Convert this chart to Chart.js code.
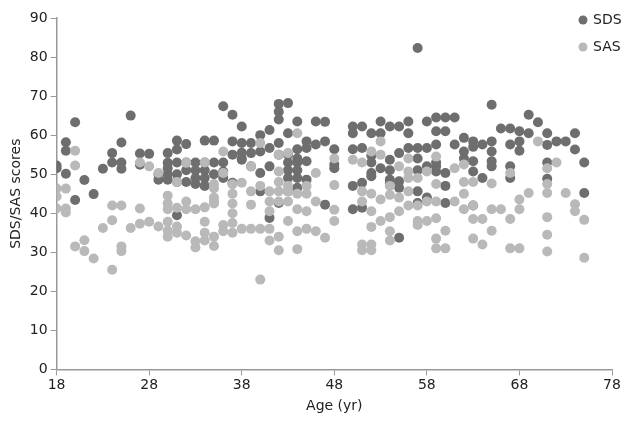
<!DOCTYPE html>
<html>
<head>
<meta charset="utf-8">
<script src="https://cdn.jsdelivr.net/npm/chart.js@4"></script>
<style>
    body { margin: 0; background: #fff; }
    #wrap { width: 630px; height: 430px; }
</style>
</head>
<body>
<div id="wrap"><canvas id="scores"></canvas></div>
<script>
    // Age (x) and score (y) pairs, one column per age
    const sdsAges = [
        18, 18, 19, 19, 19, 20, 20, 21, 22, 23, 24, 24, 25, 25, 25, 26, 27, 27,
        28, 29, 29, 30, 30, 30, 30, 30, 31, 31, 31, 31, 31, 31, 32, 32, 32, 32,
        33, 33, 33, 33, 34, 34, 34, 34, 34, 35, 35, 35, 36, 36, 36, 36, 37, 37,
        37, 37, 38, 38, 38, 38, 38, 39, 39, 39, 40, 40, 40, 40, 41, 41, 41, 41,
        42, 42, 42, 42, 42, 42, 43, 43, 43, 43, 43, 43, 43, 44, 44, 44, 44, 44,
        44, 44, 45, 45, 45, 45, 46, 46, 47, 47, 47, 48, 48, 48, 50, 50, 50, 50,
        50, 51, 51, 51, 51, 52, 52, 52, 52, 52, 53, 53, 53, 54, 54, 54, 54, 54,
        55, 55, 55, 55, 55, 56, 56, 56, 57, 57, 57, 57, 57, 57, 58, 58, 58, 58,
        59, 59, 59, 59, 59, 59, 60, 60, 60, 60, 60, 61, 61, 62, 62, 62, 63, 63,
        63, 63, 63, 64, 64, 65, 65, 65, 65, 65, 66, 67, 67, 67, 67, 68, 68, 68,
        69, 69, 70, 71, 71, 71, 71, 72, 73, 74, 74, 75, 75
    ];
    const sdsScores = [
        52.2, 51.5, 58.2, 56, 50.1, 63.3, 43.4, 48.5, 44.9, 51.4, 55.4, 53, 58.1, 53, 51.4, 65, 55.3, 52.4,
        55.2, 50, 48.6, 55.4, 52.9, 51.5, 50, 48.6, 58.6, 56.3, 53, 50, 48, 39.5, 57.7, 53, 51, 48,
        53, 51, 49, 47.5, 58.6, 53, 51, 49, 47, 58.6, 53, 50, 67.4, 53, 50.7, 49, 65.2, 58.4,
        55, 47.8, 62.2, 58, 55.5, 54, 53.7, 58, 55.4, 52, 60, 55.8, 50.3, 45.6, 61.3, 56.7, 52, 38.8,
        68, 66, 64, 58, 55, 42.6, 68.2, 60.5, 55, 53, 51, 49, 45.6, 63.5, 56.4, 54, 53, 51,
        49, 46.5, 58.4, 56.7, 53.3, 48.6, 63.5, 57.6, 63.4, 58.4, 42.2, 56.4, 52.5, 51.5, 62.2, 60.5, 56.4, 47,
        41, 62.2, 56.7, 47.8, 41.4, 60.5, 54.7, 53, 50.3, 49.5, 63.5, 60.5, 51.5, 62.2, 53.7, 51, 48.6, 47.8,
        62.2, 55.4, 48.2, 46.5, 33.7, 63.5, 60.5, 56.7, 82.3, 56.7, 54, 51, 45.6, 42.6, 63.5, 56.7, 52, 44,
        64.5, 61, 57.6, 53, 52, 50.7, 64.5, 61, 50.3, 47, 42.6, 64.5, 57.6, 59.3, 55.8, 54, 58.4, 57,
        53.3, 50.7, 42, 57.6, 49, 67.8, 58.4, 55.8, 53.3, 52, 61.7, 61.7, 57.6, 52, 49, 61, 58.4, 56,
        65.2, 60.5, 63.3, 60.5, 57.5, 53, 48.8, 58.4, 58.4, 60.5, 56.3, 53, 45.2
    ];
    const sasAges = [
        18, 18, 18, 19, 19, 19, 20, 20, 20, 21, 21, 22, 23, 24, 24, 24, 25, 25, 25,
        26, 27, 27, 27, 28, 28, 29, 29, 30, 30, 30, 30, 30, 30, 31, 31, 31, 31,
        32, 32, 32, 32, 33, 33, 33, 34, 34, 34, 34, 34, 35, 35, 35, 35, 35, 35, 35,
        36, 36, 36, 36, 37, 37, 37, 37, 37, 37, 38, 38, 39, 39, 39, 39, 40, 40,
        40, 40, 41, 41, 41, 41, 41, 42, 42, 42, 42, 42, 42, 42, 43, 43, 43, 43,
        43, 44, 44, 44, 44, 44, 45, 45, 45, 45, 46, 46, 46, 47, 48, 48, 48, 48,
        50, 51, 51, 51, 51, 51, 52, 52, 52, 52, 52, 52, 53, 53, 53, 53, 54, 54,
        54, 54, 54, 55, 55, 55, 56, 56, 56, 56, 56, 57, 57, 57, 57, 58, 58, 58,
        59, 59, 59, 59, 59, 59, 60, 60, 61, 61, 62, 62, 62, 62, 63, 63, 63, 63,
        64, 64, 65, 65, 65, 66, 67, 67, 67, 68, 68, 68, 69, 70, 71, 71, 71, 71,
        71, 71, 72, 73, 74, 74, 75, 75
    ];
    const sasScores = [
        46.3, 44.3, 41.2, 46.3, 41.2, 40.2, 56, 52.2, 31.5, 33.1, 30.3, 28.4, 36.2, 42, 38.2, 25.5, 42, 31.5, 30.3,
        36.2, 53, 41.2, 37.3, 52, 37.8, 50.3, 36.6, 44.5, 42.5, 41, 37.8, 35.5, 34, 48, 41.4, 36.6, 35,
        52.9, 43, 41, 34.3, 41, 32.8, 31.2, 53, 41.5, 37.8, 35, 33, 47.5, 46.4, 44, 43, 42.5, 34, 31.6,
        55.8, 50.3, 37, 35.4, 47.4, 45, 42.5, 40, 37.5, 35, 47.8, 36, 52, 45.6, 42.2, 36, 58, 47,
        36, 23, 45.6, 43, 40.5, 36, 33, 55, 50.7, 48, 45.6, 43, 34, 30.5, 55.4, 47, 45.6, 43,
        38, 60.5, 45, 41, 35.4, 30.8, 47, 45, 40.5, 36, 50.3, 43, 35.4, 33.7, 54, 47.2, 40.9, 38,
        53.7, 53, 45.6, 43, 32, 30.5, 55.8, 45, 40.5, 36.5, 32, 30.5, 58.4, 55, 43.5, 38, 47, 44.7,
        39, 35.4, 33, 52, 44, 40.5, 54, 50.7, 49, 45.6, 42, 49, 42, 38, 37, 50.7, 43, 38,
        54.5, 47.5, 43, 38.7, 33.5, 31, 35.5, 31, 51.5, 43, 52.5, 48, 45, 41, 48, 42, 38.5, 33.5,
        38.5, 32, 47.6, 41, 35.5, 41, 50.3, 38.5, 31, 43.5, 41, 31, 45.2, 58.4, 51.5, 47.5, 45.2, 39,
        34.5, 30.2, 53, 45.2, 42.3, 40.5, 38.3, 28.6
    ];
    const xTicks = [18, 28, 38, 48, 58, 68, 78];
    const seriesNames = ["SDS", "SAS"];
    const seriesColors = ["rgb(110, 110, 110)", "rgb(185, 185, 185)"];

    const toPoints = (xs, ys) => xs.map((x, i) => ({ x: x, y: ys[i] }));

    // legend sits inside the plot at the top right, drawn by hand
    const cornerLegend = {
        id: "cornerLegend",
        afterDraw(chart) {
            const ctx = chart.ctx;
            ctx.save();
            ctx.font = "14px 'DejaVu Sans'";
            ctx.textBaseline = "middle";
            seriesNames.forEach((name, i) => {
                const y = 20 + i * 27;
                ctx.fillStyle = seriesColors[i];
                ctx.beginPath();
                ctx.arc(583, y, 4.5, 0, Math.PI * 2);
                ctx.fill();
                ctx.fillStyle = "#222";
                ctx.fillText(name, 593, y);
            });
            ctx.restore();
        },
    };

    new Chart(document.getElementById("scores"), {
        type: "scatter",
        data: {
            datasets: [
                {
                    label: seriesNames[0],
                    data: toPoints(sdsAges, sdsScores),
                    backgroundColor: seriesColors[0],
                    order: 1,
                },
                {
                    label: seriesNames[1],
                    data: toPoints(sasAges, sasScores),
                    backgroundColor: seriesColors[1],
                    order: 0,
                },
            ],
        },
        options: {
            responsive: true,
            maintainAspectRatio: false,
            animation: false,
            layout: { padding: { top: 18, right: 18, bottom: 11, left: 4 } },
            elements: {
                point: { radius: 5, borderWidth: 0, hoverRadius: 5 },
            },
            plugins: {
                legend: { display: false },
                tooltip: { enabled: false },
            },
            scales: {
                x: {
                    type: "linear",
                    min: 18,
                    max: 78,
                    afterBuildTicks: (scale) => {
                        scale.ticks = xTicks.map((v) => ({ value: v }));
                    },
                    grid: {
                        drawOnChartArea: false,
                        drawTicks: true,
                        tickLength: 6,
                        color: "#999",
                    },
                    border: { color: "#999", width: 1.5 },
                    ticks: {
                        color: "#222",
                        font: { family: "'DejaVu Sans'", size: 14 },
                        padding: 2,
                    },
                    title: {
                        display: true,
                        text: "Age (yr)",
                        color: "#222",
                        font: { family: "'DejaVu Sans'", size: 14 },
                        padding: { top: 2 },
                    },
                },
                y: {
                    min: 0,
                    max: 90,
                    ticks: {
                        stepSize: 10,
                        color: "#222",
                        font: { family: "'DejaVu Sans'", size: 14 },
                        padding: 3,
                    },
                    grid: {
                        drawOnChartArea: false,
                        drawTicks: true,
                        tickLength: 6,
                        color: "#999",
                    },
                    border: { color: "#999", width: 1.5 },
                    title: {
                        display: true,
                        text: "SDS/SAS scores",
                        color: "#222",
                        font: { family: "'DejaVu Sans'", size: 14 },
                        padding: { bottom: 2 },
                    },
                },
            },
        },
        plugins: [cornerLegend],
    });
</script>
</body>
</html>
